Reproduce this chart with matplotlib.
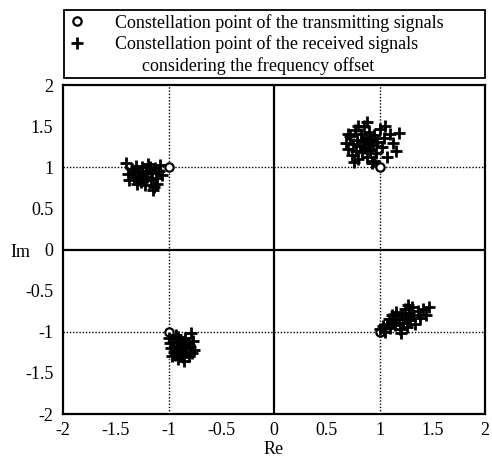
import matplotlib
matplotlib.use('Agg')
import matplotlib.pyplot as plt
from matplotlib.lines import Line2D

plt.rcParams['font.family'] = ['Liberation Serif', 'DejaVu Serif']

# transmitted QPSK points
tx_re = [1, -1, -1, 1]
tx_im = [1, 1, -1, -1]

# received points, quadrant by quadrant
q1_re = [0.68, 0.70, 0.72, 0.74, 0.75, 0.77, 0.78, 0.79, 0.80, 0.81, 0.82, 0.83, 0.84, 0.85,
         0.86, 0.87, 0.88, 0.89, 0.90, 0.91, 0.92, 0.93, 0.94, 0.95, 0.97, 0.98, 1.00, 1.02,
         1.04, 1.07, 1.10, 1.13, 1.18, 1.16, 0.76, 0.88, 0.70, 0.95, 1.05, 0.80]
q1_im = [1.30, 1.22, 1.38, 1.15, 1.28, 1.45, 1.20, 1.33, 1.10, 1.26, 1.40, 1.18, 1.32, 1.50,
         1.24, 1.36, 1.12, 1.29, 1.43, 1.21, 1.34, 1.05, 1.27, 1.39, 1.17, 1.31, 1.47, 1.25,
         1.36, 1.13, 1.40, 1.30, 1.42, 1.20, 1.06, 1.55, 1.40, 1.08, 1.50, 1.50]

q2_re = [-1.40, -1.38, -1.37, -1.35, -1.33, -1.31, -1.30, -1.28, -1.27, -1.25, -1.24, -1.22,
         -1.21, -1.20, -1.19, -1.17, -1.16, -1.15, -1.13, -1.12, -1.11, -1.09, -1.08, -1.06,
         -1.14, -1.26, -1.34, -1.18, -1.23, -1.29]
q2_im = [1.05, 0.92, 0.84, 0.98, 0.88, 1.02, 0.80, 0.94, 0.86, 1.00, 0.90, 0.78,
         0.96, 0.88, 1.04, 0.84, 0.93, 0.72, 0.99, 0.87, 0.80, 0.95, 1.03, 0.90,
         0.76, 0.82, 0.94, 1.00, 0.85, 0.90]

q3_re = [-1.00, -0.98, -0.97, -0.96, -0.95, -0.93, -0.92, -0.91, -0.90, -0.89, -0.88, -0.87,
         -0.86, -0.85, -0.84, -0.83, -0.82, -0.81, -0.80, -0.79, -0.78, -0.77, -0.76, -0.94,
         -0.99, -0.86, -0.91, -0.83]
q3_im = [-1.08, -1.20, -1.30, -1.12, -1.24, -1.04, -1.17, -1.33, -1.22, -1.10, -1.27, -1.15,
         -1.20, -1.35, -1.07, -1.25, -1.14, -1.30, -1.19, -1.02, -1.26, -1.11, -1.22, -1.28,
         -1.14, -1.31, -1.06, -1.18]

q4_re = [1.00, 1.03, 1.05, 1.07, 1.09, 1.10, 1.12, 1.13, 1.15, 1.16, 1.18, 1.19, 1.21, 1.22,
         1.24, 1.25, 1.26, 1.28, 1.29, 1.31, 1.32, 1.34, 1.36, 1.38, 1.41, 1.44, 1.47, 1.20,
         1.27, 1.14]
q4_im = [-0.97, -0.93, -1.00, -0.90, -0.85, -0.95, -0.80, -0.88, -0.92, -0.76, -0.84, -0.97,
         -0.79, -0.89, -0.72, -0.83, -0.94, -0.77, -0.86, -0.70, -0.80, -0.90, -0.75, -0.83,
         -0.72, -0.80, -0.70, -1.02, -0.68, -0.84]

rx_re = q1_re + q2_re + q3_re + q4_re
rx_im = q1_im + q2_im + q3_im + q4_im

ticks = [-2, -1.5, -1, -0.5, 0, 0.5, 1, 1.5, 2]
tick_labels = ['-2', '-1.5', '-1', '-0.5', '0', '0.5', '1', '1.5', '2']

fs = 13

fig = plt.figure(figsize=(4.92, 4.57), dpi=100)
ax = fig.add_axes([0.128, 0.094, 0.858, 0.72])

ax.axhline(0, color='black', lw=1.6, zorder=1)
ax.axvline(0, color='black', lw=1.6, zorder=1)
for v in (-1, 1):
    ax.axhline(v, color='black', lw=1.0, ls=(0, (1, 1.3)), zorder=1)
    ax.axvline(v, color='black', lw=1.0, ls=(0, (1, 1.3)), zorder=1)

ax.plot(rx_re, rx_im, ls='none', marker='+', ms=8, mew=2.0, color='black', zorder=3)
ax.plot(tx_re, tx_im, ls='none', marker='o', ms=6, mew=1.6, mfc='white', mec='black', zorder=2)

ax.set_xlim(-2, 2)
ax.set_ylim(-2, 2)
ax.set_xticks(ticks)
ax.set_xticklabels(tick_labels)
ax.set_yticks(ticks)
ax.set_yticklabels(tick_labels)
ax.tick_params(length=0, labelsize=fs)
ax.tick_params(axis='x', pad=6)
ax.tick_params(axis='y', pad=7)
for s in ax.spines.values():
    s.set_linewidth(1.6)

ax.set_xlabel('Re', fontsize=fs)
ax.xaxis.set_label_coords(0.5, -0.083)
ax.set_ylabel('Im', fontsize=fs, rotation=0, va='center', ha='center')
ax.yaxis.set_label_coords(-0.1, 0.49)

handles = [
    Line2D([], [], ls='none', marker='o', ms=6, mew=1.6, mfc='white', mec='black'),
    Line2D([], [], ls='none', marker='+', ms=8, mew=2.0, color='black'),
    Line2D([], [], ls='none'),
]
labels = ['Constellation point of the transmitting signals',
          'Constellation point of the received signals',
          '      considering the frequency offset']
fig.legend(handles, labels, loc='upper left', bbox_to_anchor=(0.130, 0.829, 0.856, 0.149),
           mode='expand', fontsize=fs, frameon=True, fancybox=False, edgecolor='black',
           framealpha=1, borderaxespad=0, labelspacing=0.2, handlelength=1.0,
           handletextpad=1.6, borderpad=0.2)
fig.legends[0].get_frame().set_linewidth(1.3)

fig.savefig('out.png', dpi=100)
